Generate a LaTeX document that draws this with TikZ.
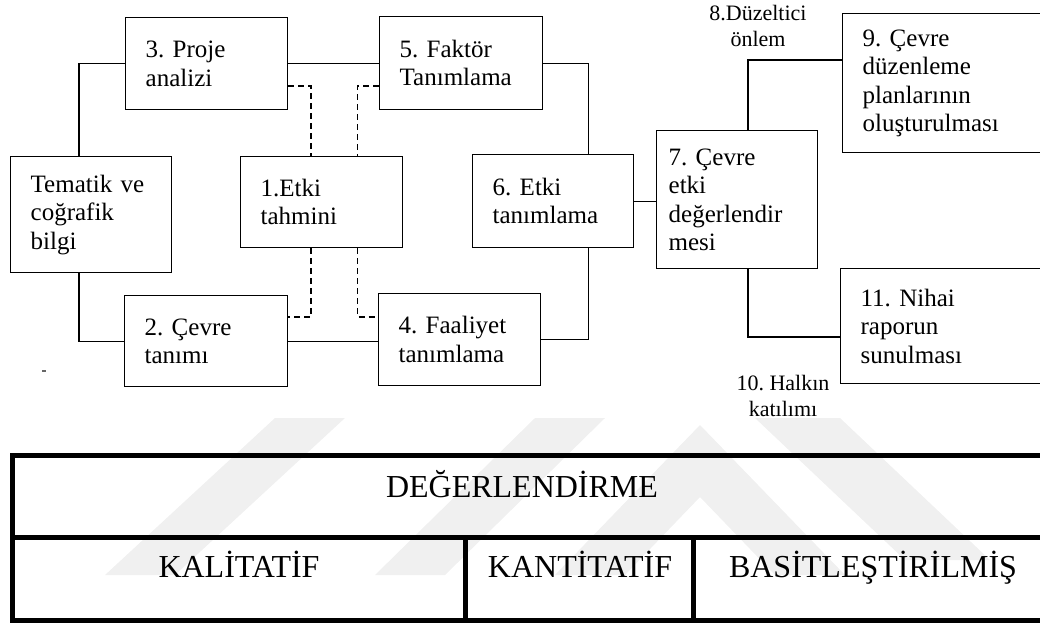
\documentclass[tikz,border=0pt]{standalone}
\usepackage{fontspec}
\setmainfont{Liberation Serif}
\usetikzlibrary{calc}
\frenchspacing

\newcommand{\boxfont}{\rmfamily\fontsize{25}{28.5}\selectfont}
\newcommand{\notefont}{\rmfamily\fontsize{22}{26}\selectfont}
\newcommand{\tablefont}{\rmfamily\fontsize{32}{38}\selectfont}

\tikzset{
  stepbox/.style={draw, line width=1.3pt, anchor=north west, align=left,
    inner xsep=20pt, inner ysep=0pt, font=\boxfont},
  link/.style={line width=1.3pt},
  dlink/.style={line width=1.2pt, dash pattern=on 6pt off 4pt},
  note/.style={align=center, font=\notefont, inner sep=0pt},
  rule/.style={line width=5pt},
  cell/.style={anchor=base, font=\tablefont, inner sep=0pt},
  wmark/.style={fill=black!6, draw=none}
}

\begin{document}
\begin{tikzpicture}[x=1pt, y=-1pt]
\useasboundingbox (0,0) rectangle (1040,626);
\clip (0,0) rectangle (1040,626);

% faint background stripes
\fill[wmark] (105,575) -- (175,575) -- (345,418) -- (275,418) -- cycle;
\fill[wmark] (375,575) -- (445,575) -- (605,418) -- (535,418) -- cycle;
\fill[wmark] (555,575) -- (700,425) -- (845,575) -- (775,575) -- (700,497) -- (625,575) -- cycle;
\fill[wmark] (755,418) -- (840,418) -- (990,560) -- (905,560) -- cycle;

% process boxes
\node[stepbox, text width=122pt, minimum height=92pt]  (p3)  at (125,17)  {3. Proje\\analizi};
\node[stepbox, text width=121pt, minimum height=116pt] (tem) at (10,156)  {Tematik ve\\coğrafik\\bilgi};
\node[stepbox, text width=122pt, minimum height=91pt]  (p1)  at (240,156) {1.Etki\\tahmini};
\node[stepbox, text width=123pt, minimum height=93pt]  (p5)  at (379,16)  {5. Faktör\\Tanımlama};
\node[stepbox, text width=121pt, minimum height=93pt]  (p6)  at (472,154) {6. Etki\\tanımlama};
\node[stepbox, text width=123pt, minimum height=91pt]  (p2)  at (124,295) {2. Çevre\\tanımı};
\node[stepbox, text width=122pt, minimum height=92pt]  (p4)  at (378,293) {4. Faaliyet\\tanımlama};
\node[stepbox, inner xsep=12pt, text width=137pt, minimum height=138pt] (p7) at (656,130)
  {7. Çevre\\etki\\değerlendir\\mesi};
\node[stepbox, text width=180pt, minimum height=139pt] (p9)  at (842,13)
  {9. Çevre\\düzenleme\\planlarının\\oluşturulması};
\node[stepbox, text width=180pt, minimum height=115pt] (p11) at (840,268)
  {11. Nihai\\raporun\\sunulması};

% side notes (anchored at the baseline of their last line)
\node[note, anchor=base] (n8)  at (758,47)  {8.Düzeltici\\önlem};
\node[note, anchor=base] (n10) at (783,416) {10. Halkın\\katılımı};

% solid connectors
\draw[link] ($(tem.north west)+(69,0)$) |- (p3.west);
\draw[link] (p3.east) -- (p5.west |- p3.east);
\draw[link] (p5.east) -| ($(p6.north east)+(-46,0)$);
\draw[link] (p6.east) -- (p7.west |- p6.east);
\draw[link] ($(p6.south east)+(-46,0)$) |- (p4.east);
\draw[link] (p2.east) -- (p4.west |- p2.east);
\draw[link] ($(tem.south west)+(69,0)$) |- (p2.west);
\draw[link] ($(p7.north west)+(92,0)$) |- ($(p9.north west)+(0,47)$);
\draw[link] ($(p7.south west)+(92,0)$) |- ($(p11.north west)+(0,69)$);

% dashed connectors
\draw[dlink] ($(p3.north east)+(0,69)$) -| ($(p1.north west)+(71,0)$);
\draw[dlink] ($(p5.north west)+(0,70)$) -| ($(p1.north east)+(-46,0)$);
\draw[dlink] ($(p1.south west)+(71,0)$) |- ($(p2.north east)+(0,22)$);
\draw[dlink] ($(p1.south east)+(-46,0)$) |- ($(p4.north west)+(0,24)$);

% stray tick
\coordinate (t1) at (42,371);
\coordinate (t2) at (46,371);
\draw[line width=1.2pt, black!60] (t1) -- (t2);

% evaluation table
\coordinate (tl) at (12,455);
\coordinate (tr) at (1060,455);
\coordinate (ml) at (12,537.5);
\coordinate (mr) at (1060,537.5);
\coordinate (bl) at (12,620.5);
\coordinate (br) at (1060,620.5);
\draw[rule] (tr) -- (tl) -- (bl) -- (br);
\draw[rule] (ml) -- (mr);
\draw[rule] (465.5,537.5) -- (465.5,620.5);
\draw[rule] (693,537.5) -- (693,620.5);

\node[cell] (deg) at (522,497) {DEĞERLENDİRME};
\node[cell] (kal) at (239,577) {KALİTATİF};
\node[cell] (kan) at (580,577) {KANTİTATİF};
\node[cell] (bas) at (873,577) {BASİTLEŞTİRİLMİŞ};
\end{tikzpicture}
\end{document}
